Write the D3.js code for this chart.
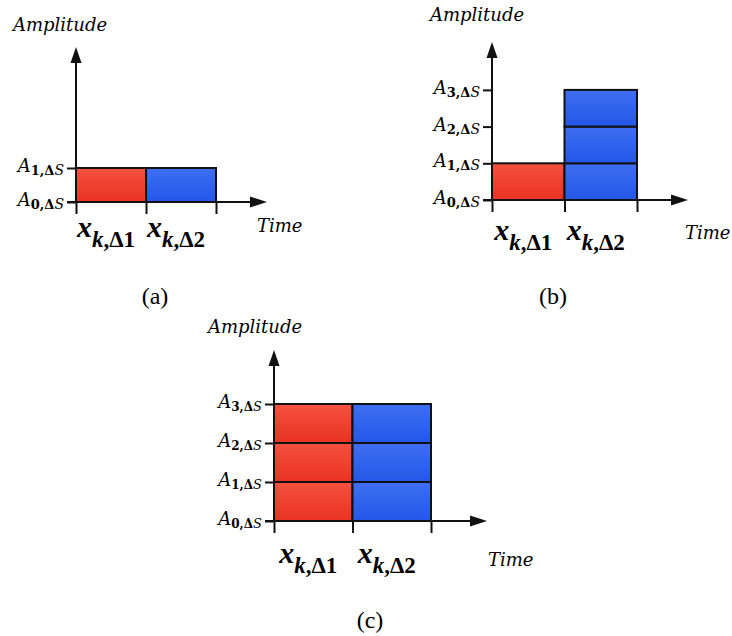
<!DOCTYPE html>
<html>
<head>
<meta charset="utf-8">
<script src="https://cdn.jsdelivr.net/npm/d3@7"></script>
<style>
  body { margin: 0; background: #fff; }
</style>
</head>
<body>
<script>
// data
var categories = ["\u03941", "\u03942"];      // x_{k,Δ1}, x_{k,Δ2}
var panelNames = ["(a)", "(b)", "(c)"];
var levelsA = [1, 1];   // amplitude level reached by each time slot
var levelsB = [1, 3];
var levelsC = [3, 3];
var ticksA = [0, 1];
var ticksB = [0, 1, 2, 3];
var ticksC = [0, 1, 2, 3];

var wideSerif = "'DejaVu Serif', serif";
var timesSerif = "'Liberation Serif', 'Times New Roman', serif";

var svg = d3.select("body").append("svg")
    .attr("width", 732).attr("height", 636);

var defs = svg.append("defs");
function grad(id, top, bottom) {
    var g = defs.append("linearGradient").attr("id", id)
        .attr("x1", 0).attr("y1", 0).attr("x2", 0).attr("y2", 1);
    g.append("stop").attr("offset", "0%").attr("stop-color", top);
    g.append("stop").attr("offset", "100%").attr("stop-color", bottom);
}
grad("red", "#f5513f", "#ea3222");
grad("blue", "#3d6ef2", "#2557e8");

// ox,oy = origin; cw = cell width; ch = cell height
var panels = [
    {levels: levelsA, ticks: ticksA, ox: 76, oy: 202, cw: 70, ch: 34, top: 47, xend: 267,
     amp: [13, 31], time: [257, 232], lab: 237, sub: 13, cap: [155, 304]},
    {levels: levelsB, ticks: ticksB, ox: 492, oy: 200, cw: 72.5, ch: 36.7, top: 42, xend: 688,
     amp: [430, 21], time: [685, 239], lab: 240, sub: 13, cap: [553, 304]},
    {levels: levelsC, ticks: ticksC, ox: 274, oy: 521, cw: 78.5, ch: 39, top: 350, xend: 487,
     amp: [208, 333], time: [488, 566], lab: 563, sub: 12, cap: [370, 628]}
];

panels.forEach(function(p, pi) {
    var g = svg.append("g");
    var x = d3.scaleLinear().domain([0, categories.length]).range([p.ox, p.ox + p.cw * categories.length]);
    var y = d3.scaleLinear().domain([0, 1]).range([p.oy, p.oy - p.ch]);

    // cells
    var cells = [];
    p.levels.forEach(function(v, i) {
        for (var j = 0; j < v; j++) cells.push({i: i, j: j});
    });
    g.selectAll("rect.cell").data(cells).enter().append("rect")
        .attr("class", "cell")
        .attr("x", function(d) { return x(d.i); })
        .attr("y", function(d) { return y(d.j + 1); })
        .attr("width", function(d) { return x(d.i + 1) - x(d.i); })
        .attr("height", function(d) { return y(d.j) - y(d.j + 1); })
        .attr("fill", function(d) { return d.i === 0 ? "url(#red)" : "url(#blue)"; })
        .attr("stroke", "#111").attr("stroke-width", 2);

    // axes ticks
    g.append("g").attr("transform", "translate(" + p.ox + ",0)")
        .call(d3.axisLeft(y).tickValues(p.ticks).tickSize(9).tickFormat(""))
        .call(function(a) { a.select(".domain").remove(); a.selectAll("line").attr("stroke-width", 2).attr("stroke", "#111"); });
    g.append("g").attr("transform", "translate(0," + p.oy + ")")
        .call(d3.axisBottom(x).tickValues(d3.range(categories.length + 1)).tickSize(12).tickFormat(""))
        .call(function(a) { a.select(".domain").remove(); a.selectAll("line").attr("stroke-width", 2).attr("stroke", "#111"); });

    // axis lines with arrows
    g.append("line").attr("x1", p.ox).attr("x2", p.ox).attr("y1", p.oy).attr("y2", p.top + 12)
        .attr("stroke", "#111").attr("stroke-width", 2);
    g.append("path").attr("d", "M" + p.ox + "," + p.top + "L" + (p.ox - 5.5) + "," + (p.top + 16) + "L" + (p.ox + 5.5) + "," + (p.top + 16) + "Z")
        .attr("fill", "#111");
    g.append("line").attr("x1", p.ox - 9).attr("x2", p.xend - 12).attr("y1", p.oy).attr("y2", p.oy)
        .attr("stroke", "#111").attr("stroke-width", 2);
    g.append("path").attr("d", "M" + p.xend + "," + p.oy + "L" + (p.xend - 17) + "," + (p.oy - 5.5) + "L" + (p.xend - 17) + "," + (p.oy + 5.5) + "Z")
        .attr("fill", "#111");

    // tick labels A_{n,ΔS}
    p.ticks.forEach(function(t) {
        var tx = g.append("text").attr("x", p.ox - 12).attr("y", y(t) + 4)
            .attr("text-anchor", "end").attr("font-family", wideSerif)
            .attr("font-size", 18).attr("font-style", "italic");
        tx.append("tspan").text("A");
        tx.append("tspan").attr("dy", 3).attr("font-size", p.sub).attr("font-style", "normal")
            .attr("font-weight", "bold").text(t + ",\u0394");
        tx.append("tspan").attr("font-size", p.sub + 1).attr("font-style", "italic").text("S");
    });

    // category labels x_{k,Δn}
    categories.forEach(function(c, i) {
        var tx = g.append("text").attr("x", (x(i) + x(i + 1)) / 2 - 5).attr("y", p.lab)
            .attr("text-anchor", "middle").attr("font-family", timesSerif).attr("font-size", 30);
        tx.append("tspan").attr("font-style", "italic").attr("font-weight", "bold").text("x");
        tx.append("tspan").attr("dy", 10).attr("font-size", 23).attr("font-style", "italic").attr("font-weight", "bold").text("k");
        tx.append("tspan").attr("font-size", 23).attr("font-weight", "bold").text("," + c);
    });

    g.append("text").attr("x", p.amp[0]).attr("y", p.amp[1]).attr("font-family", wideSerif)
        .attr("font-size", 18).attr("font-style", "italic").text("Amplitude");
    g.append("text").attr("x", p.time[0]).attr("y", p.time[1]).attr("font-family", wideSerif)
        .attr("font-size", 18).attr("font-style", "italic").text("Time");
    g.append("text").attr("x", p.cap[0]).attr("y", p.cap[1]).attr("font-family", timesSerif)
        .attr("text-anchor", "middle").attr("font-size", 24).text(panelNames[pi]);
});
</script>
</body>
</html>
